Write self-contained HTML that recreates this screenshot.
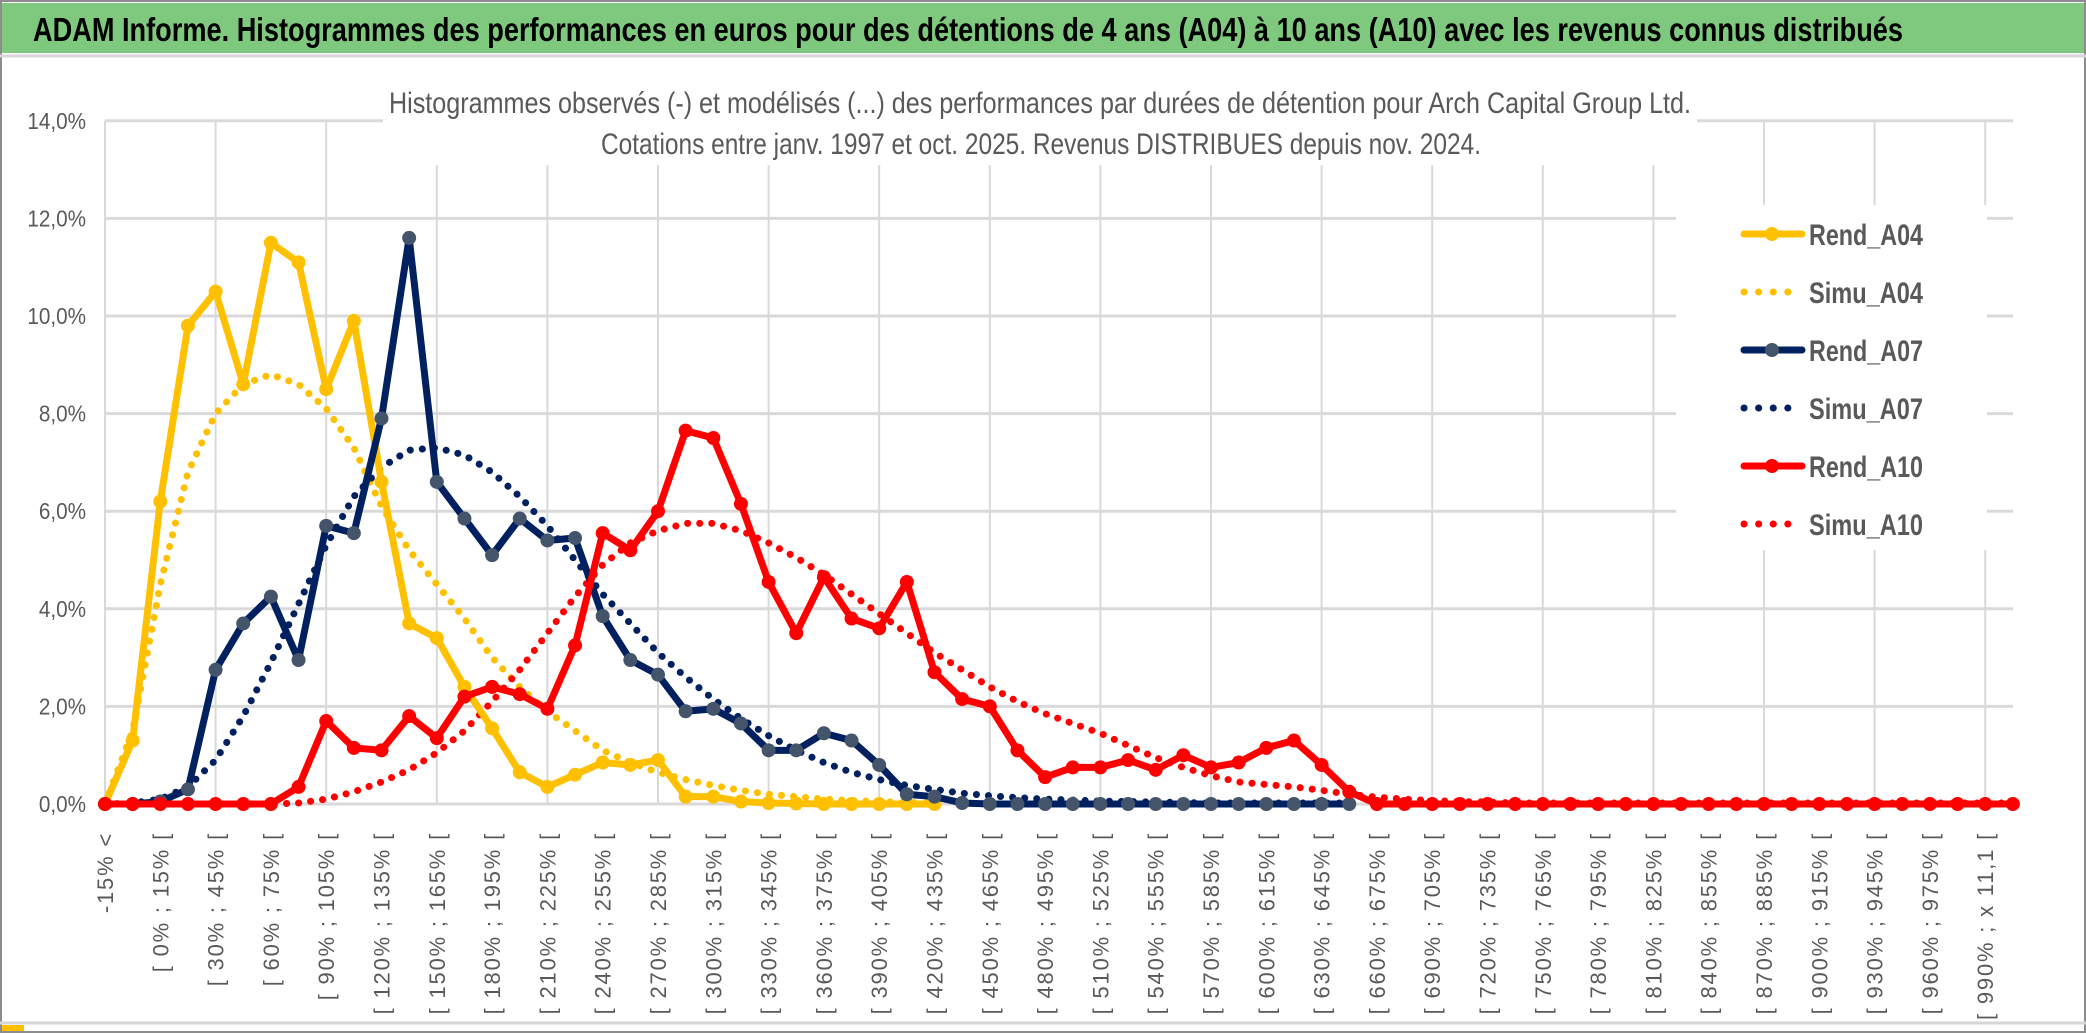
<!DOCTYPE html>
<html><head><meta charset="utf-8"><style>
html,body{margin:0;padding:0;background:#fff;}
svg{display:block;font-family:"Liberation Sans",sans-serif;}
</style></head><body>
<svg id="chart" width="2086" height="1033" viewBox="0 0 2086 1033" xmlns="http://www.w3.org/2000/svg">
<rect x="0" y="0" width="2086" height="1033" fill="#fff"/>
<rect x="1" y="1" width="2084" height="1031" fill="none" stroke="#8c8c8c" stroke-width="2"/>
<rect x="2" y="3" width="2082" height="50" fill="#7fc97f"/>
<line x1="0" y1="56" x2="2086" y2="56" stroke="#d6d6d6" stroke-width="3"/>
<text x="33" y="41" font-size="33" font-weight="bold" fill="#000" textLength="1870" lengthAdjust="spacingAndGlyphs">ADAM Informe. Histogrammes des performances en euros pour des détentions de 4 ans (A04) à 10 ans (A10) avec les revenus connus distribués</text>
<g id="grid"></g>
<rect x="383" y="60" width="1314" height="105" fill="#fff"/>
<rect x="1676" y="205" width="311" height="345" fill="#fff"/>
<text x="389" y="113" font-size="30" fill="#595959" textLength="1302" lengthAdjust="spacingAndGlyphs">Histogrammes observés (-) et modélisés (...) des performances par durées de détention pour Arch Capital Group Ltd.</text>
<text x="601" y="154" font-size="30" fill="#595959" textLength="880" lengthAdjust="spacingAndGlyphs">Cotations entre janv. 1997 et oct. 2025. Revenus DISTRIBUES depuis nov. 2024.</text>
<g id="yaxis"></g>
<g id="xaxis"></g>
<g id="series"></g>
<g id="legend"></g>
<line x1="0" y1="1023" x2="2086" y2="1023" stroke="#d6d6d6" stroke-width="3"/>
<rect x="2" y="1025" width="22" height="6" fill="#ffc000"/>
</svg>
<script>
const yTicks = [0,2,4,6,8,10,12,14];
const nCats = 70;
const rendA04 = [0,1.3,6.2,9.8,10.5,8.6,11.5,11.1,8.5,9.9,6.6,3.7,3.4,2.4,1.55,0.65,0.35,0.6,0.85,0.8,0.9,0.15,0.15,0.05,0.02,0.01,0,0,0,0,0];
const simuA04 = [0,1.5,4.5,6.8,8.0,8.6,8.8,8.6,8.1,7.3,6.1,5.2,4.5,3.8,3.0,2.4,1.9,1.5,1.1,0.85,0.65,0.5,0.38,0.28,0.2,0.15,0.1,0.07,0.05,0.03,0.02];
const rendA07 = [0,0,0.05,0.3,2.75,3.7,4.25,2.95,5.7,5.55,7.9,11.6,6.6,5.85,5.1,5.85,5.4,5.45,3.85,2.95,2.65,1.9,1.95,1.65,1.1,1.1,1.45,1.3,0.8,0.2,0.15,0.02,0,0,0,0,0,0,0,0,0,0,0,0,0,0];
const simuA07 = [0,0.02,0.1,0.35,0.9,1.8,2.9,4.1,5.3,6.3,6.9,7.25,7.3,7.15,6.8,6.3,5.7,5.0,4.3,3.7,3.1,2.6,2.15,1.75,1.4,1.1,0.85,0.65,0.5,0.38,0.3,0.22,0.17,0.13,0.1,0.08,0.06,0.05,0.04,0.03,0.02,0.02,0.02,0.02,0.02,0.02];
const rendA10 = [0,0,0,0,0,0,0,0.35,1.7,1.15,1.1,1.8,1.35,2.2,2.4,2.25,1.95,3.25,5.55,5.2,6.0,7.65,7.5,6.15,4.55,3.5,4.65,3.8,3.6,4.55,2.7,2.15,2.0,1.1,0.55,0.75,0.75,0.9,0.7,1.0,0.75,0.85,1.15,1.3,0.8,0.25,0,0,0,0,0,0,0,0,0,0,0,0,0,0,0,0,0,0,0,0,0,0,0,0];
const simuA10 = [0,0,0,0,0,0,0,0.02,0.1,0.25,0.45,0.7,1.05,1.5,2.1,2.75,3.5,4.25,4.9,5.35,5.6,5.75,5.75,5.6,5.35,5.05,4.7,4.3,3.9,3.5,3.1,2.75,2.4,2.1,1.85,1.65,1.45,1.2,0.95,0.75,0.58,0.45,0.4,0.35,0.28,0.2,0.14,0.1,0.07,0.05,0.04,0.02,0.02,0.02,0.02,0.02,0.02,0.02,0.02,0.02,0.02,0.02,0.02,0.02,0.02,0.02,0.02,0.02,0.02,0.02];

const NS = "http://www.w3.org/2000/svg";
const X0 = 105, DX = 27.65, Y0 = 804, PY = 48.8;
const xS = i => X0 + i * DX;
const yS = v => Y0 - v * PY;
function mk(tag, attrs, parent){ const e=document.createElementNS(NS,tag); for(const k in attrs) e.setAttribute(k,attrs[k]); parent.appendChild(e); return e; }
function catLabel(i){
  if(i===0) return "-15% <";
  if(i===68) return "[ 990% ; x 11,1 [";
  if(i===69) return "x 11,1 <";
  const a = 15*i-30, b = a+15;
  return "[ " + a + "% ; " + b + "% [";
}
const grid = document.getElementById('grid');
yTicks.forEach(t => {
  const l = mk('line',{x1:X0,x2:2013,y1:yS(t),y2:yS(t),stroke:'#d9d9d9','stroke-width':3},grid);
  
  
});
for(let i=0;i<nCats;i+=4){
  const l = mk('line',{x1:xS(i),x2:xS(i),y1:yS(14),y2:yS(0),stroke:'#d9d9d9','stroke-width':2},grid);
  
  
}
const ya = document.getElementById('yaxis');
yTicks.forEach(t => {
  const tx = mk('text',{x:86,y:yS(t)+8,'text-anchor':'end','font-size':23,fill:'#595959',transform:`translate(${86*0.1},0) scale(0.9,1)`},ya);
  tx.setAttribute('transform',`translate(86,0) scale(0.9,1) translate(-86,0)`);
  tx.textContent = t.toFixed(1).replace('.',',') + '%';
  
  
});
const xa = document.getElementById('xaxis');
for(let i=0;i<nCats;i+=2){
  const x = xS(i)+8, y = 832;
  const tx = mk('text',{x:0,y:0,transform:`translate(${x},${y}) rotate(-90)`,'text-anchor':'end','font-size':22,'letter-spacing':'1.8',fill:'#595959'},xa);
  tx.textContent = catLabel(i);
  
  
}
const sg = document.getElementById('series');
function pts(arr){ return arr.map((v,i)=>xS(i)+','+yS(v)).join(' '); }
function dotted(arr,color,name){
  const p = mk('polyline',{points:pts(arr),fill:'none',stroke:color,'stroke-width':7,'stroke-dasharray':'0.1 12','stroke-linecap':'round','stroke-linejoin':'round'},sg);
  
  
}
function solid(arr,color,mcolor,name){
  const p = mk('polyline',{points:pts(arr),fill:'none',stroke:color,'stroke-width':7,'stroke-linejoin':'round'},sg);
  
  
  arr.forEach((v,i)=>{
    const c = mk('circle',{cx:xS(i),cy:yS(v),r:7,fill:mcolor},sg);
    
    
  });
}
dotted(simuA04,'#ffc000','simu-a04-line');
dotted(simuA07,'#002060','simu-a07-line');
dotted(simuA10,'#ff0000','simu-a10-line');
solid(rendA04,'#ffc000','#ffc000','rend-a04-line');
solid(rendA07,'#002060','#44546a','rend-a07-line');
solid(rendA10,'#ff0000','#ff0000','rend-a10-line');

const lg = document.getElementById('legend');
const items = [['Rend_A04','#ffc000','#ffc000',false],['Simu_A04','#ffc000','',true],['Rend_A07','#002060','#44546a',false],['Simu_A07','#002060','',true],['Rend_A10','#ff0000','#ff0000',false],['Simu_A10','#ff0000','',true]];
items.forEach((it,k)=>{
  const y = 234 + k*58;
  const g = mk('g',{},lg);
  
  
  if(it[3]){
    mk('line',{x1:1744,x2:1790,y1:y,y2:y,stroke:it[1],'stroke-width':7,'stroke-dasharray':'0.1 14.5','stroke-linecap':'round'},g);
  } else {
    mk('line',{x1:1744,x2:1802,y1:y,y2:y,stroke:it[1],'stroke-width':7,'stroke-linecap':'round'},g);
    mk('circle',{cx:1772,cy:y,r:7,fill:it[2]},g);
  }
  const t = mk('text',{x:1809,y:y+11,'font-size':30,'font-weight':'bold',fill:'#595959',textLength:114,lengthAdjust:'spacingAndGlyphs'},g);
  t.textContent = it[0];
});
</script>
</body></html>
